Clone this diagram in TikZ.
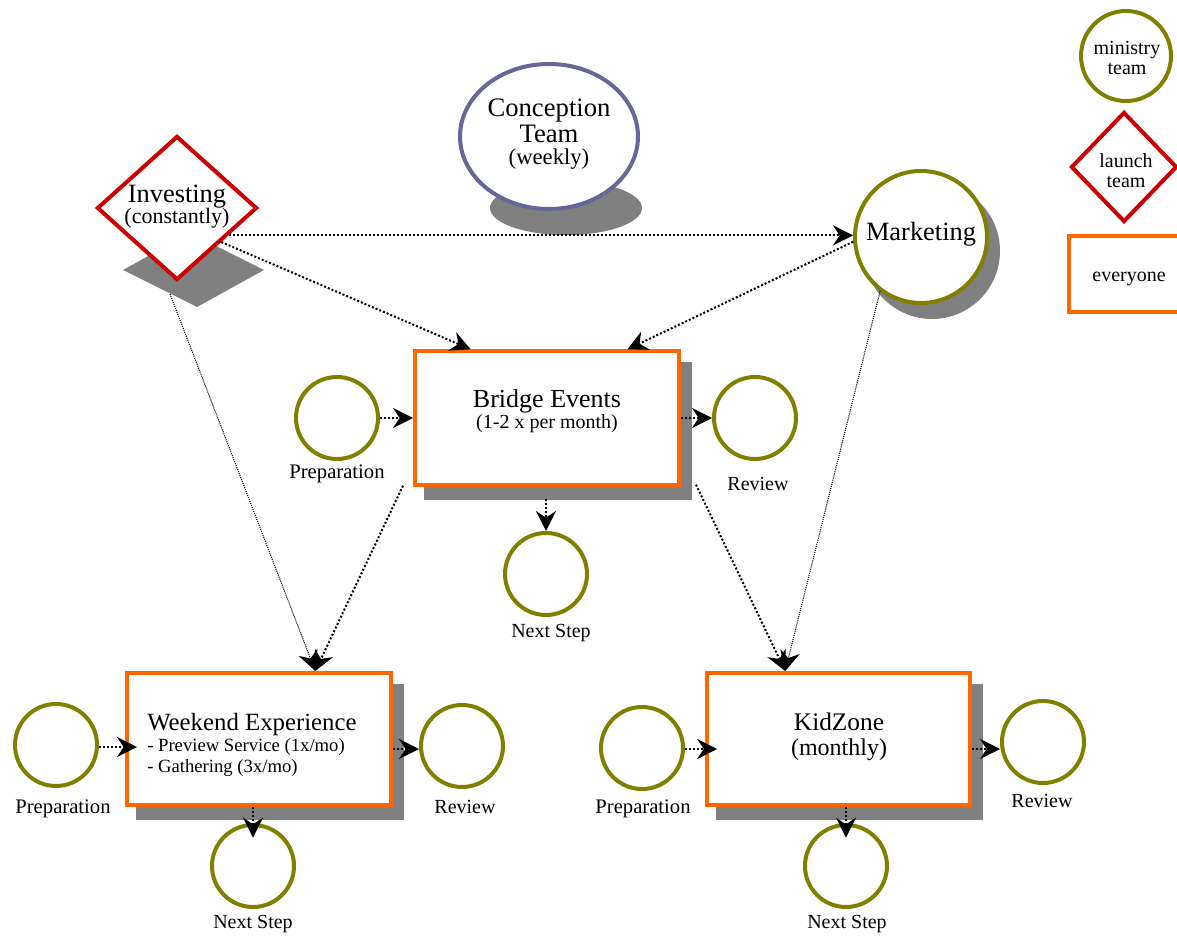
\documentclass[tikz,border=0pt]{standalone}
\usepackage{fontspec}
\setmainfont{Liberation Serif}
\usetikzlibrary{shapes.geometric,arrows.meta,calc}
\definecolor{olivec}{HTML}{808000}
\definecolor{redc}{HTML}{CC0000}
\definecolor{orangec}{HTML}{FF6600}
\definecolor{bluec}{HTML}{666699}
\definecolor{shadowc}{HTML}{808080}
\begin{document}
\begin{tikzpicture}[x=0.75pt,y=-0.75pt,
  mteam/.style={circle,draw=olivec,line width=3pt,fill=white,inner sep=0pt,minimum size=61.5pt},
  evbox/.style={rectangle,draw=orangec,line width=3pt,fill=white,inner sep=0pt,minimum width=198pt,minimum height=100pt},
  lteam/.style={diamond,draw=redc,line width=3pt,fill=white,inner sep=0pt},
  shd/.style={fill=shadowc},
  tipk/.style={-{Stealth[length=15pt,width=15pt,inset=5pt]}},
  conn/.style={tipk,line width=1.5pt,dash pattern=on 1.5pt off 1.5pt},
  thinconn/.style={tipk,line width=0.8pt,dash pattern=on 0.8pt off 0.8pt},
  big/.style={font=\fontsize{19.5}{22}\selectfont},
  sub/.style={font=\fontsize{15.5}{18}\selectfont},
  lab/.style={font=\fontsize{15}{18}\selectfont},
  txt/.style={anchor=base,inner sep=0pt}
]
\useasboundingbox (0,0) rectangle (1177,937);

% ---------- shadows ----------
\fill[shd] (123,270) -- (190,233) -- (264,270) -- (197,307) -- cycle;
\fill[shd] (566,208) ellipse [x radius=57pt, y radius=20.25pt];
\fill[shd] (932,251) circle [radius=51pt];
\fill[shd] (424,362) rectangle (692,500);
\fill[shd] (136,684) rectangle (404,820);
\fill[shd] (716,684) rectangle (983,820);

% ---------- main shapes ----------
\node[lteam,minimum width=120pt,minimum height=108pt] (inv) at (177,208) {};
\node[ellipse,draw=bluec,line width=3pt,fill=white,inner sep=0pt,minimum width=133.5pt,minimum height=108.75pt] (conc) at (549,136.5) {};
\node[mteam,minimum size=99pt] (mkt) at (921,237) {};

\node[evbox] (bridge) at (547,418) {};
\node[evbox,minimum height=99pt] (wk) at (259,739) {};
\node[evbox,minimum width=197pt,minimum height=99pt] (kid) at (838.5,739) {};

\node[mteam] (bprep) at (337,418) {};
\node[mteam] (brev) at (755,418) {};
\node[mteam] (bnext) at (546,574) {};

\node[mteam] (wprep) at (56,745) {};
\node[mteam] (wrev) at (462,746) {};
\node[mteam] (wnext) at (253,866) {};

\node[mteam] (kprep) at (642,748) {};
\node[mteam] (krev) at (1043,742) {};
\node[mteam] (knext) at (846,866) {};

% ---------- legend ----------
\node[mteam,minimum size=67.5pt] (leg1) at (1126,56) {};
\node[lteam,minimum width=79.5pt,minimum height=82.5pt] (leg2) at (1124,167) {};
\node[rectangle,draw=orangec,line width=3pt,fill=white,inner sep=0pt,minimum width=90pt,minimum height=57pt] (leg3) at (1129,274) {};

% ---------- texts ----------
\node[txt,font=\fontsize{20}{22}\selectfont] (concT1) at (549,117) {Conception};
\node[txt,font=\fontsize{20}{22}\selectfont] (concT2) at (549,143) {Team};
\node[txt,font=\fontsize{17}{20}\selectfont] (concT3) at (549,165) {(weekly)};

\node[txt,font=\fontsize{19.8}{22}\selectfont] (invT1) at (177,203) {Investing};
\node[txt,font=\fontsize{16.5}{20}\selectfont] (invT2) at (177,224) {(constantly)};

\node[txt,font=\fontsize{19.8}{22}\selectfont] (mktT) at (921,241) {Marketing};

\node[txt,big] (brT1) at (547,408) {Bridge Events};
\node[txt,font=\fontsize{15}{18}\selectfont] (brT2) at (547,428) {(1-2 x per month)};

\node[txt,anchor=base west,font=\fontsize{18.6}{22}\selectfont] (wkT1) at (147,730) {Weekend Experience};
\node[txt,anchor=base west,font=\fontsize{14}{17}\selectfont] (wkT2) at (147,751) {- Preview Service (1x/mo)};
\node[txt,anchor=base west,font=\fontsize{14}{17}\selectfont] (wkT3) at (147,772) {- Gathering (3x/mo)};

\node[txt,font=\fontsize{19}{22}\selectfont] (kidT1) at (839,730) {KidZone};
\node[txt,font=\fontsize{18}{22}\selectfont] (kidT2) at (839,755) {(monthly)};

\node[txt,sub] (bprepT) at (337,478) {Preparation};
\node[txt,lab] (brevT) at (758,490) {Review};
\node[txt,lab] (bnextT) at (551,637) {Next Step};

\node[txt,sub] (wprepT) at (63,813) {Preparation};
\node[txt,lab] (wrevT) at (465,813) {Review};
\node[txt,lab] (wnextT) at (253,928) {Next Step};

\node[txt,sub] (kprepT) at (643,813) {Preparation};
\node[txt,lab] (krevT) at (1042,807) {Review};
\node[txt,lab] (knextT) at (847,928) {Next Step};

\node[txt,lab] (leg1T1) at (1127,55) {ministry};
\node[txt,lab] (leg1T2) at (1127,75) {team};
\node[txt,lab] (leg2T1) at (1126,168) {launch};
\node[txt,lab] (leg2T2) at (1126,188) {team};
\node[txt,lab] (leg3T) at (1129,282) {everyone};

% ---------- connectors ----------
\coordinate (invA) at ($(inv.east)!0.37!(inv.south)$);
\coordinate (invB) at ($(inv.east)!0.46!(inv.south)$);
\draw[conn] (invA) -- (invA -| mkt.west);
\draw[conn] (invB) -- ($(bridge.north west)!0.215!(bridge.north east)$);
\draw[conn] (mkt.184) -- ($(bridge.north west)!0.8!(bridge.north east)$);

\coordinate (wkTop) at ($(wk.north west)!0.71!(wk.north east)$);
\draw[thinconn] ($(inv.south)+(-7,12)$) -- (wkTop);
\draw[conn] ($(bridge.south west)+(-10,-1)$) -- (wkTop);

\coordinate (kidTop) at ($(kid.north west)!0.30!(kid.north east)$);
\draw[conn] ($(bridge.south east)+(15,-2)$) -- (kidTop);
\draw[thinconn] (mkt.233) -- (kidTop);

\draw[conn] (bprep.east) -- (bridge.west);
\draw[conn] (bridge.east) -- (brev.west);
\draw[conn] (bridge.south -| bnext.north) ++(0,12) -- (bnext.north);

\coordinate (wa) at ($(wprep.east)+(0,2)$);
\draw[conn,shorten >=-9pt] (wa) -- (wa -| wk.west);
\coordinate (wb) at ($(wk.east)+(0,10)$);
\draw[conn] (wb) -- (wb -| wrev.west);
\draw[conn,shorten >=-11pt] (wnext.north |- wk.south) -- (wnext.north);

\coordinate (ka) at ($(kprep.east)+(0,1)$);
\draw[conn,shorten >=-9pt] (ka) -- (ka -| kid.west);
\coordinate (kb) at ($(kid.east)+(0,10)$);
\draw[conn] (kb) -- (kb -| krev.west);
\draw[conn,shorten >=-11pt] (knext.north |- kid.south) -- (knext.north);
\end{tikzpicture}
\end{document}
